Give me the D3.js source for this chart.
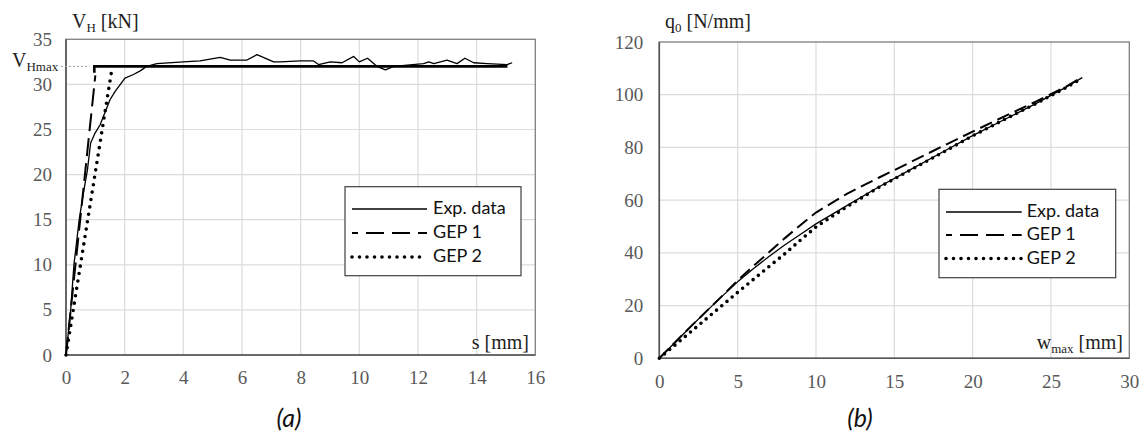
<!DOCTYPE html>
<html>
<head>
<meta charset="utf-8">
<script src="https://cdn.jsdelivr.net/npm/d3@7"></script>
<style>
  body { margin: 0; background: #fff; }
  svg { display: block; }
</style>
</head>
<body>
<svg id="chart" width="1142" height="434"></svg>
<script>
// DATA
// ================================================================== //

// (a) horizontal load V_H [kN] vs slip s [mm]
const expS = [0, 0.08, 0.16, 0.27, 0.36, 0.45, 0.59, 0.73, 0.84, 0.99, 1.16, 1.5, 1.67, 2.01, 2.3, 2.53, 2.75, 3.1, 4.0, 4.57, 4.91, 5.26, 5.6, 6.17, 6.51, 7.08, 7.3, 7.99, 8.44, 8.61, 9.01, 9.41, 9.81, 10.0, 10.28, 10.6, 10.89, 11.17, 12.19, 12.37, 12.54, 12.99, 13.33, 13.6, 13.9, 14.36, 15.04, 15.21];
const expV = [0, 2.5, 5, 10, 12.5, 15, 17.9, 20.5, 23.5, 24.6, 25.5, 28.3, 29.2, 30.7, 31.1, 31.5, 32.0, 32.3, 32.5, 32.6, 32.8, 33.0, 32.7, 32.7, 33.3, 32.5, 32.5, 32.6, 32.6, 32.2, 32.5, 32.4, 33.1, 32.5, 32.9, 32.0, 31.6, 32.0, 32.3, 32.5, 32.3, 32.7, 32.3, 32.9, 32.4, 32.3, 32.2, 32.4];
const vHmax = 32;
const gep1S = [0, 1.0];
const gep2S = [0, 1.58];
const plateauEndS = 15.05;
const sTicks = [0, 2, 4, 6, 8, 10, 12, 14, 16];
const vTicks = [0, 5, 10, 15, 20, 25, 30, 35];

// (b) load q0 [N/mm] vs max deflection w_max [mm]
const wVals = [0, 1, 2, 3, 4, 5, 6, 7, 8, 9, 10, 12, 14, 16, 18, 20, 22, 24, 26, 27];
const expQ  = [0, 6, 12, 17.8, 23.5, 29, 34, 38.6, 43, 47, 51, 58, 65, 71.5, 78, 84.5, 90.5, 96.5, 103, 106.5];
const gep1Q = [0, 6, 12, 17.8, 23.6, 29.5, 35, 40.2, 45.5, 50.5, 55.3, 62.5, 68.5, 74.3, 80.2, 86, 91.7, 97.3, 103.2, 106.7];
const gep2Q = [0, 5, 10, 15, 20, 25, 29.9, 34.8, 39.6, 44.8, 49.8, 57.6, 64.8, 71.3, 77.8, 84.4, 90.5, 96.5, 102.8, 106.3];
const wTicks = [0, 5, 10, 15, 20, 25, 30];
const qTicks = [0, 20, 40, 60, 80, 100, 120];

const legendLabels = ["Exp. data", "GEP 1", "GEP 2"];

// ================================================================== //

const svg = d3.select("#chart");
const serif = '"Liberation Serif", "Times New Roman", serif';
const sans = 'Lato, "Open Sans", sans-serif';

const styles = {
    exp:  { width: 1.3, dash: null, cap: "butt" },
    gep1: { width: 2, dash: "18 7", cap: "butt" },
    gep2: { width: 3.6, dash: "0 7.5", cap: "round" },
};

const styleTicks = a => {
    a.select(".domain").remove();
    a.selectAll("text")
        .attr("font-family", serif)
        .attr("font-size", 19)
        .attr("fill", "#595959");
};

const drawPanel = (cfg) => {
    const { x, y, xTicks, yTicks } = cfg;
    const [x0, x1] = x.range();
    const [y0, y1] = y.range();
    const g = svg.append("g");

    // grid
    g.append("g").selectAll("line").data(xTicks.slice(1, -1)).join("line")
        .attr("x1", d => x(d)).attr("x2", d => x(d))
        .attr("y1", y1).attr("y2", y0)
        .attr("stroke", "#dcdcdc").attr("stroke-width", 1.2);
    g.append("g").selectAll("line").data(yTicks.slice(1, -1)).join("line")
        .attr("x1", x0).attr("x2", x1)
        .attr("y1", d => y(d)).attr("y2", d => y(d))
        .attr("stroke", "#dcdcdc").attr("stroke-width", 1.2);

    // frame
    g.append("rect")
        .attr("x", x0).attr("y", y1)
        .attr("width", x1 - x0).attr("height", y0 - y1)
        .attr("fill", "none").attr("stroke", "#7f7f7f").attr("stroke-width", 1.3);
    g.append("path")
        .attr("d", `M${x0},${y1}V${y0}H${x1}`)
        .attr("fill", "none").attr("stroke", "#555").attr("stroke-width", 1.6);

    // axes (labels only)
    g.append("g")
        .attr("transform", `translate(0,${y0})`)
        .call(d3.axisBottom(x).tickValues(xTicks).tickSize(0).tickPadding(cfg.xPad))
        .call(styleTicks);
    g.append("g")
        .attr("transform", `translate(${x0},0)`)
        .call(d3.axisLeft(y).tickValues(yTicks).tickSize(0).tickPadding(cfg.yPad))
        .call(styleTicks);

    return g;
};

const drawLine = (g, pts, key, dash) => {
    const s = styles[key];
    g.append("path")
        .datum(pts)
        .attr("d", d3.line().x(d => d[0]).y(d => d[1]))
        .attr("fill", "none")
        .attr("stroke", "#000")
        .attr("stroke-width", s.width)
        .attr("stroke-dasharray", dash || s.dash)
        .attr("stroke-linecap", s.cap)
        .attr("stroke-linejoin", "round");
};

const drawLegend = (g, box) => {
    g.append("rect")
        .attr("x", box.x).attr("y", box.y)
        .attr("width", box.w).attr("height", box.h)
        .attr("fill", "#fff").attr("stroke", "#404040").attr("stroke-width", 1.2);
    ["exp", "gep1", "gep2"].forEach((key, i) => {
        const s = styles[key];
        const ly = box.rows[i];
        g.append("line")
            .attr("x1", box.lx0).attr("x2", box.lx1)
            .attr("y1", ly - 5).attr("y2", ly - 5)
            .attr("stroke", "#000")
            .attr("stroke-width", s.width)
            .attr("stroke-dasharray", key === "gep1" ? "18 8" : s.dash)
            .attr("stroke-dashoffset", key === "gep1" ? 12 : 0)
            .attr("stroke-linecap", s.cap);
        g.append("text")
            .attr("x", box.tx).attr("y", ly)
            .attr("font-family", sans).attr("font-size", 18)
            .attr("fill", "#111")
            .text(legendLabels[i]);
    });
};

// PANEL (a)
// ================================================================== //
const xA = d3.scaleLinear().domain([0, 16]).range([66, 535.3]);
const yA = d3.scaleLinear().domain([0, 35]).range([355, 39.3]);
const gA = drawPanel({ x: xA, y: yA, xTicks: sTicks, yTicks: vTicks, xPad: 16, yPad: 14 });

// V_Hmax guide
gA.append("line")
    .attr("x1", 61).attr("x2", xA(0.8))
    .attr("y1", yA(vHmax)).attr("y2", yA(vHmax))
    .attr("stroke", "#999").attr("stroke-width", 1).attr("stroke-dasharray", "2 2");

drawLine(gA, expS.map((s, i) => [xA(s), yA(expV[i])]), "exp");
drawLine(gA, [[xA(gep2S[0]), yA(0)], [xA(gep2S[1]), yA(vHmax)]], "gep2");
drawLine(gA, [[xA(gep1S[0]), yA(0)], [xA(gep1S[1]), yA(vHmax - 1)]], "gep1");
// shared plateau of both GEP models
gA.append("path")
    .attr("d", d3.line()([[xA(gep1S[1]) - 1, yA(vHmax - 0.7)], [xA(gep1S[1]) - 1, yA(vHmax)], [xA(plateauEndS), yA(vHmax)]]))
    .attr("fill", "none").attr("stroke", "#000").attr("stroke-width", 2.6);

// titles
const tA = gA.append("text").attr("x", 72).attr("y", 28)
    .attr("font-family", serif).attr("font-size", 20).attr("fill", "#222");
tA.append("tspan").text("V");
tA.append("tspan").attr("font-size", 13).attr("dy", 4).text("H");
tA.append("tspan").attr("dy", -4).text(" [kN]");

const tM = gA.append("text").attr("x", 12).attr("y", 67)
    .attr("font-family", serif).attr("font-size", 20).attr("fill", "#222");
tM.append("tspan").text("V");
tM.append("tspan").attr("font-size", 13).attr("dy", 4).text("Hmax");

gA.append("text").attr("x", 529).attr("y", 349)
    .attr("text-anchor", "end")
    .attr("font-family", serif).attr("font-size", 20).attr("fill", "#222")
    .text("s [mm]");

drawLegend(gA, { x: 345, y: 186.7, w: 176, h: 89, rows: [214, 238, 262], lx0: 352, lx1: 427, tx: 433 });

// PANEL (b)
// ================================================================== //
const xB = d3.scaleLinear().domain([0, 30]).range([659.3, 1129.3]);
const yB = d3.scaleLinear().domain([0, 120]).range([358.3, 42]);
const gB = drawPanel({ x: xB, y: yB, xTicks: wTicks, yTicks: qTicks, xPad: 16, yPad: 16 });

const lineB = arr => wVals.map((w, i) => [xB(w), yB(arr[i])]);
drawLine(gB, lineB(expQ), "exp");
drawLine(gB, lineB(gep2Q), "gep2", "0 6.8");
drawLine(gB, lineB(gep1Q), "gep1", "13 6");

const tB = gB.append("text").attr("x", 665).attr("y", 28)
    .attr("font-family", serif).attr("font-size", 20).attr("fill", "#222");
tB.append("tspan").text("q");
tB.append("tspan").attr("font-size", 13).attr("dy", 4).text("0");
tB.append("tspan").attr("dy", -4).text(" [N/mm]");

const tW = gB.append("text").attr("x", 1123).attr("y", 349)
    .attr("text-anchor", "end")
    .attr("font-family", serif).attr("font-size", 20).attr("fill", "#222");
tW.append("tspan").text("w");
tW.append("tspan").attr("font-size", 13).attr("dy", 4).text("max");
tW.append("tspan").attr("dy", -4).text(" [mm]");

drawLegend(gB, { x: 939, y: 189.3, w: 176.7, h: 88.4, rows: [217, 240, 263.5], lx0: 946, lx1: 1021.7, tx: 1026.7 });

// captions
svg.selectAll("text.caption")
    .data([["(a)", 289], ["(b)", 860]])
    .join("text")
    .attr("class", "caption")
    .attr("x", d => d[1]).attr("y", 427)
    .attr("text-anchor", "middle")
    .attr("font-family", sans).attr("font-style", "italic")
    .attr("font-size", 25).attr("fill", "#111")
    .text(d => d[0]);
</script>
</body>
</html>
